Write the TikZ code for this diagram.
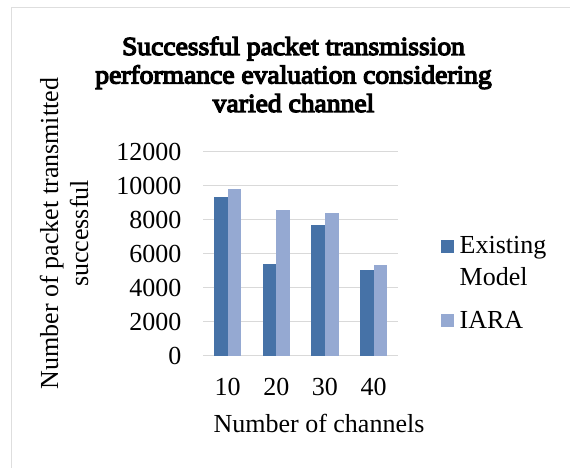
\documentclass[tikz,border=0pt]{standalone}
\usepackage{fontspec}
\setmainfont{Liberation Serif}
\newfontfamily\headfont{Liberation Serif}[FakeBold=5, FakeStretch=1.06]
\definecolor{gridgray}{RGB}{217,217,217}
\definecolor{framegray}{RGB}{222,222,222}
\definecolor{existing}{RGB}{70,114,167}
\definecolor{iara}{RGB}{149,169,210}
\begin{document}
\begin{tikzpicture}[x=1pt,y=-1pt,
  lbl/.style={font=\fontsize{26}{31}\selectfont, inner sep=0pt},
  ttl/.style={font=\headfont\fontsize{26}{31}\selectfont, inner sep=0pt, anchor=base},
  gridline/.style={draw=gridgray, line width=1.3pt},
  barA/.style={fill=existing},
  barB/.style={fill=iara},
  keybox/.style={minimum size=13pt, inner sep=0pt, anchor=north west}]
\useasboundingbox (0,0) rectangle (570,468);
\clip (0,0) rectangle (570,468);
\fill[white] (0,0) rectangle (570,468);
% chart frame
\draw[framegray, line width=1.6pt] (11.5,480) -- (11.5,7.5) -- (580,7.5);

% title
\node[ttl] (t1) at (293.5,55) {Successful packet transmission};
\node[ttl] (t2) at (293.5,83.5) {performance evaluation considering};
\node[ttl] (t3) at (293.5,112) {varied channel};

% horizontal grid and value labels (17pt per 1000)
\foreach \v in {0,2000,...,12000}{
  \pgfmathsetmacro{\gy}{355.5-0.017*\v}
  \draw[gridline] (203.3,\gy) -- (398,\gy);
  \node[lbl, anchor=base east] (y\v) at (181.5,\gy+8.6) {\v};
}

% bars: existing model and IARA per channel count
\foreach \i/\a/\b/\c in {1/9350/9800/10, 2/5400/8550/20, 3/7650/8400/30, 4/5050/5350/40}{
  \pgfmathsetmacro{\cx}{203.3+48.67*(\i-0.5)}
  \fill[barA] (\cx-13.7,355.5) rectangle (\cx,355.5-0.017*\a);
  \fill[barB] (\cx,355.5) rectangle (\cx+13.7,355.5-0.017*\b);
  \node[lbl, anchor=base] (x\c) at (\cx,395) {\c};
}

% axis titles
\node[lbl, anchor=base] (xt) at (319,432) {Number of channels};
\node[lbl, anchor=base, rotate=90] (yt1) at (58,233.5) {Number of packet transmitted};
\node[lbl, anchor=base, rotate=90] (yt2) at (88,233.5) {successful};

% legend
\node[keybox, fill=existing] (k1) at (441,240) {};
\node[lbl, anchor=base west] (k1a) at (459.5,253) {Existing};
\node[lbl, anchor=base west] (k1b) at (459.5,285) {Model};
\node[keybox, fill=iara] (k2) at (441,314) {};
\node[lbl, anchor=base west] (k2a) at (459.5,328) {IARA};
\end{tikzpicture}
\end{document}
